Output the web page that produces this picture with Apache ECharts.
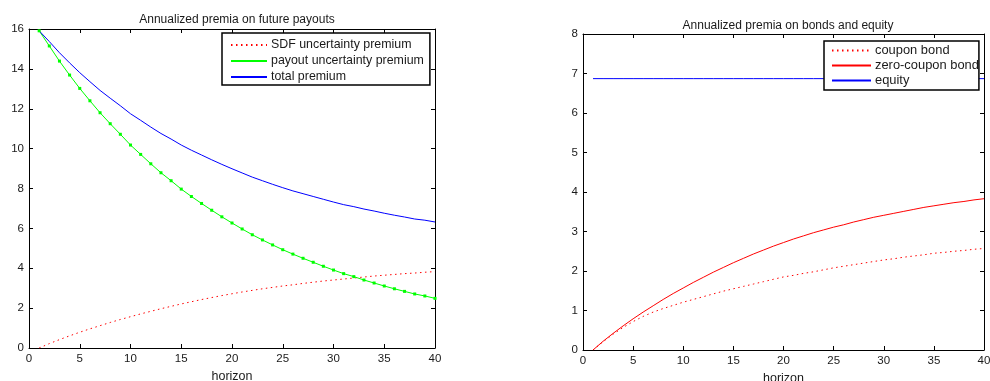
<!DOCTYPE html>
<html><head><meta charset="utf-8">
<script src="https://cdn.jsdelivr.net/npm/echarts@6/dist/echarts.min.js"></script>
<style>html,body{margin:0;padding:0;background:#fff}#c{width:990px;height:381px}</style>
</head><body><div id="c"></div>
<script>
const horizon = [1,2,3,4,5,6,7,8,9,10,11,12,13,14,15,16,17,18,19,20,21,22,23,24,25,26,27,28,29,30,31,32,33,34,35,36,37,38,39,40];
const sdfPremium = [0.00,0.22,0.42,0.61,0.79,0.96,1.12,1.28,1.43,1.57,1.71,1.84,1.97,2.09,2.21,2.32,2.43,2.53,2.63,2.72,2.81,2.89,2.97,3.04,3.11,3.17,3.24,3.30,3.36,3.41,3.46,3.51,3.56,3.61,3.65,3.69,3.73,3.76,3.80,3.83];
const payoutPremium = [15.91,15.15,14.39,13.69,13.02,12.40,11.80,11.25,10.72,10.18,9.71,9.24,8.79,8.39,7.97,7.60,7.25,6.91,6.58,6.27,5.97,5.68,5.42,5.17,4.93,4.71,4.50,4.30,4.10,3.91,3.73,3.58,3.41,3.26,3.11,2.97,2.84,2.71,2.61,2.49];
const totalPremium = [15.91,15.37,14.81,14.30,13.81,13.36,12.92,12.53,12.15,11.75,11.42,11.08,10.76,10.48,10.18,9.92,9.68,9.44,9.21,8.99,8.78,8.57,8.39,8.21,8.04,7.88,7.74,7.60,7.46,7.32,7.19,7.09,6.97,6.87,6.76,6.66,6.57,6.47,6.41,6.32];
const couponBond = [0.00,0.21,0.40,0.57,0.72,0.85,0.96,1.05,1.13,1.21,1.28,1.35,1.42,1.49,1.55,1.61,1.67,1.73,1.79,1.85,1.89,1.94,1.98,2.03,2.08,2.12,2.16,2.20,2.24,2.28,2.31,2.35,2.38,2.41,2.45,2.47,2.50,2.52,2.55,2.57];
const zeroCouponBond = [0.00,0.22,0.42,0.61,0.79,0.96,1.12,1.28,1.43,1.57,1.71,1.84,1.97,2.09,2.21,2.32,2.43,2.53,2.63,2.72,2.81,2.89,2.97,3.04,3.11,3.17,3.24,3.30,3.36,3.41,3.46,3.51,3.56,3.61,3.65,3.69,3.73,3.76,3.80,3.83];
const equity = [6.87,6.87,6.87,6.87,6.87,6.87,6.87,6.87,6.87,6.87,6.87,6.87,6.87,6.87,6.87,6.87,6.87,6.87,6.87,6.87,6.87,6.87,6.87,6.87,6.87,6.87,6.87,6.87,6.87,6.87,6.87,6.87,6.87,6.87,6.87,6.87,6.87,6.87,6.87,6.87];
const xTicks = {min:0, max:40, interval:5};
const leftY = {min:0, max:16, interval:2};
const rightY = {min:0, max:8, interval:1};
const titles = ['Annualized premia on future payouts','Annualized premia on bonds and equity'];
const xName = 'horizon';

const pairs = ys => horizon.map((h,i)=>[h, ys[i]]);
const FONT = 'Liberation Sans, Arial, sans-serif';
const TXT = '#1a1a1a';

function xAx(grid, bottom){
  return {type:'value', gridIndex:grid, position: bottom?'bottom':'top', min:xTicks.min, max:xTicks.max, interval:xTicks.interval,
    name: bottom ? xName : '', nameLocation:'middle', nameGap:17, nameTextStyle:{fontFamily:FONT,fontSize:12.5,color:TXT},
    axisLine:{show:true, onZero:false, lineStyle:{color:'#000',width:1}},
    axisTick:{show:true, inside:true, length:4, lineStyle:{color:'#000'}},
    axisLabel:{show:bottom, fontFamily:FONT, fontSize:11.5, color:TXT, margin:5, hideOverlap:false},
    splitLine:{show:false}};
}
function yAx(grid, left, r){
  return {type:'value', gridIndex:grid, position: left?'left':'right', min:r.min, max:r.max, interval:r.interval,
    axisLine:{show:true, onZero:false, lineStyle:{color:'#000',width:1}},
    axisTick:{show:true, inside:true, length:4, lineStyle:{color:'#000'}},
    axisLabel:{show:left, fontFamily:FONT, fontSize:11.5, color:TXT, margin:5},
    splitLine:{show:false}};
}
const dotted = [1.5, 3.5];
const noSym = {opacity:0};
const chart = echarts.init(document.getElementById('c'), null, {renderer:'canvas'});
chart.setOption({
  animation:false,
  backgroundColor:'#fff',
  title:[
    {text:titles[0], left:232, top:9, textAlign:'center', textStyle:{fontFamily:FONT,fontSize:12,fontWeight:'normal',color:TXT}},
    {text:titles[1], left:783, top:15, textAlign:'center', textStyle:{fontFamily:FONT,fontSize:12,fontWeight:'normal',color:TXT}}
  ],
  grid:[
    {left:29, top:29, width:406, height:319, containLabel:false, outerBoundsMode:'none'},
    {left:583, top:34, width:401, height:316, containLabel:false, outerBoundsMode:'none'}
  ],
  xAxis:[xAx(0,true), xAx(0,false), xAx(1,true), xAx(1,false)],
  yAxis:[yAx(0,true,leftY), yAx(0,false,leftY), yAx(1,true,rightY), yAx(1,false,rightY)],
  legend:[
    {data:['SDF uncertainty premium','payout uncertainty premium','total premium'], orient:'vertical', left:222, top:33,
     backgroundColor:'#fff', borderColor:'#000', borderWidth:1.5, padding:[6,6,2,8], itemGap:4, itemWidth:36, itemHeight:14,
     itemStyle:noSym,
     textStyle:{fontFamily:FONT,fontSize:12.4,color:TXT,padding:[0,0,0,-1]}},
    {data:['coupon bond','zero-coupon bond','equity'], orient:'vertical', left:824, top:41,
     backgroundColor:'#fff', borderColor:'#000', borderWidth:1.5, padding:[3,0,3,7], itemGap:2, itemWidth:39, itemHeight:13,
     itemStyle:noSym,
     textStyle:{fontFamily:FONT,fontSize:12.9,color:TXT,padding:[0,0,0,-1]}}
  ],
  series:[
    {name:'SDF uncertainty premium', type:'line', xAxisIndex:0, yAxisIndex:0, data:pairs(sdfPremium), showSymbol:false, symbol:'none',
     lineStyle:{color:'#ff0000', width:1, type:dotted}, itemStyle:{color:'#ff0000'}},
    {name:'payout uncertainty premium', type:'line', xAxisIndex:0, yAxisIndex:0, data:pairs(payoutPremium), showSymbol:true, symbol:'rect', symbolSize:3,
     lineStyle:{color:'#00ff00', width:1}, itemStyle:{color:'#00ff00'}},
    {name:'total premium', type:'line', xAxisIndex:0, yAxisIndex:0, data:pairs(totalPremium), showSymbol:false, symbol:'none',
     lineStyle:{color:'#0000ff', width:1}, itemStyle:{color:'#0000ff'}},
    {name:'coupon bond', type:'line', xAxisIndex:2, yAxisIndex:2, data:pairs(couponBond), showSymbol:false, symbol:'none',
     lineStyle:{color:'#ff0000', width:1, type:dotted}, itemStyle:{color:'#ff0000'}},
    {name:'zero-coupon bond', type:'line', xAxisIndex:2, yAxisIndex:2, data:pairs(zeroCouponBond), showSymbol:false, symbol:'none',
     lineStyle:{color:'#ff0000', width:1}, itemStyle:{color:'#ff0000'}},
    {name:'equity', type:'line', xAxisIndex:2, yAxisIndex:2, data:pairs(equity), showSymbol:false, symbol:'none',
     lineStyle:{color:'#0000ff', width:1}, itemStyle:{color:'#0000ff'}}
  ]
});
</script></body></html>
